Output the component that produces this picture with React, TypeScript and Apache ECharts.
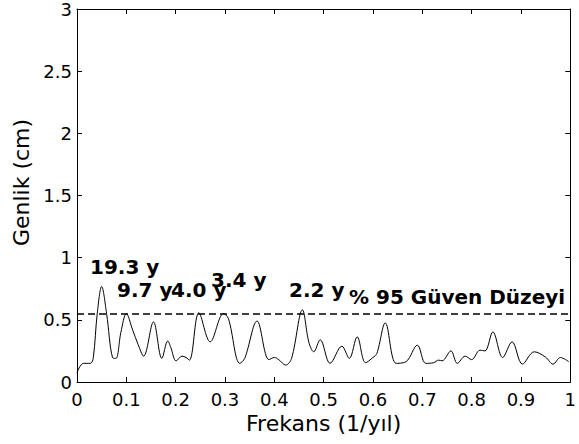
import React, { useEffect, useRef } from "react";
import * as echarts from "echarts";

// Frequency (1/yıl) and amplitude (cm)
const frequencies = [
  0.0, 0.013, 0.027, 0.033, 0.041, 0.05, 0.06, 0.072, 0.079, 0.089, 0.1, 0.113, 0.124,
  0.135, 0.155, 0.172, 0.184, 0.19, 0.201, 0.213, 0.221, 0.228, 0.247, 0.27, 0.297,
  0.307, 0.33, 0.34, 0.365, 0.389, 0.4, 0.409, 0.423, 0.435, 0.457, 0.47, 0.48, 0.493,
  0.513, 0.537, 0.552, 0.568, 0.585, 0.6, 0.608, 0.625, 0.647, 0.667, 0.69, 0.707,
  0.723, 0.733, 0.74, 0.758, 0.771, 0.787, 0.8, 0.817, 0.827, 0.843, 0.863, 0.882,
  0.903, 0.927, 0.95, 0.965, 0.98, 0.997,
];
const amplitudes = [
  0.075, 0.15, 0.15, 0.195, 0.55, 0.768, 0.55, 0.197, 0.19, 0.4, 0.55, 0.416, 0.3,
  0.208, 0.483, 0.19, 0.33, 0.28, 0.17, 0.208, 0.197, 0.176, 0.557, 0.323, 0.55,
  0.51, 0.15, 0.19, 0.49, 0.18, 0.197, 0.18, 0.136, 0.19, 0.58, 0.32, 0.243, 0.34,
  0.15, 0.288, 0.19, 0.363, 0.155, 0.197, 0.23, 0.475, 0.15, 0.163, 0.296, 0.15,
  0.155, 0.176, 0.17, 0.25, 0.15, 0.208, 0.18, 0.256, 0.25, 0.403, 0.197, 0.323,
  0.144, 0.243, 0.2, 0.144, 0.197, 0.163,
];
const confidenceLevel = 0.55;
const confidenceLabel = "% 95 Güven Düzeyi";
const periodLabels = ["19.3 y", "9.7 y", "4.0 y", "3.4 y", "2.2 y"];
const xTickLabels = ["0", "0.1", "0.2", "0.3", "0.4", "0.5", "0.6", "0.7", "0.8", "0.9", "1"];
const yTickLabels = ["0", "0.5", "1", "1.5", "2", "2.5", "3"];
const xTitle = "Frekans (1/yıl)";
const yTitle = "Genlik (cm)";

const FONT = "'DejaVu Sans', sans-serif";

export default function App() {
  const ref = useRef<HTMLDivElement>(null);

  useEffect(() => {
    document.body.style.margin = "0";
    if (!ref.current) return;
    const chart = echarts.init(ref.current, undefined, { renderer: "svg" });

    const axisCommon = {
      type: "value" as const,
      splitLine: { show: false },
      axisLine: { show: true, onZero: false, lineStyle: { color: "#000", width: 1 } },
      axisTick: { show: true, inside: true, length: 5, lineStyle: { color: "#000", width: 1 } },
    };

    // annotation positions (pixels): [left x, middle y]
    const periodPos = [
      [90, 267],
      [117, 290],
      [171, 290],
      [211, 280],
      [289, 290],
    ];

    const option: any = {
      animation: false,
      backgroundColor: "#fff",
      grid: { left: 77, right: 2.5, top: 7.5, bottom: 62, containLabel: false },
      xAxis: [
        {
          ...axisCommon,
          position: "bottom",
          min: 0,
          max: 1,
          interval: 0.1,
          axisLabel: {
            color: "#000",
            fontSize: 18,
            fontFamily: FONT,
            margin: 8,
            showMinLabel: true,
            showMaxLabel: true,
            formatter: (v: number) => xTickLabels[Math.round(v * 10)],
          },
          name: xTitle,
          nameLocation: "middle",
          nameGap: 27,
          nameTextStyle: { color: "#000", fontSize: 22, fontFamily: FONT },
        },
        {
          ...axisCommon,
          position: "top",
          min: 0,
          max: 1,
          interval: 0.1,
          axisLabel: { show: false },
        },
      ],
      yAxis: [
        {
          ...axisCommon,
          position: "left",
          min: 0,
          max: 3,
          interval: 0.5,
          axisLabel: {
            color: "#000",
            fontSize: 18,
            fontFamily: FONT,
            margin: 5,
            showMinLabel: true,
            showMaxLabel: true,
            formatter: (v: number) => yTickLabels[Math.round(v * 2)],
          },
          name: yTitle,
          nameLocation: "middle",
          nameGap: 44,
          nameTextStyle: { color: "#000", fontSize: 22, fontFamily: FONT, padding: [0, 0, 0, 26] },
        },
        {
          ...axisCommon,
          position: "right",
          min: 0,
          max: 3,
          interval: 0.5,
          axisLabel: { show: false },
        },
      ],
      series: [
        {
          type: "line",
          xAxisIndex: 0,
          yAxisIndex: 0,
          data: frequencies.map((f, i) => [f, amplitudes[i]]),
          showSymbol: false,
          symbol: "none",
          smooth: 0.35,
          lineStyle: { color: "#000", width: 1 },
          markLine: {
            silent: true,
            symbol: "none",
            label: { show: false },
            lineStyle: { color: "#000", width: 1.5, type: [7, 4] },
            data: [{ yAxis: confidenceLevel }],
          },
        },
      ],
      graphic: [
        ...periodLabels.map((t, i) => ({
          type: "text",
          x: periodPos[i][0],
          y: periodPos[i][1],
          style: {
            text: t,
            fill: "#000",
            font: `bold 20px ${FONT}`,
            align: "left",
            verticalAlign: "middle",
          },
        })),
        {
          type: "text",
          x: 349,
          y: 297,
          style: {
            text: confidenceLabel,
            fill: "#000",
            font: `bold 20px ${FONT}`,
            align: "left",
            verticalAlign: "middle",
          },
        },
      ],
    };

    chart.setOption(option);
    return () => chart.dispose();
  }, []);

  return <div ref={ref} style={{ width: 579, height: 444 }} />;
}
